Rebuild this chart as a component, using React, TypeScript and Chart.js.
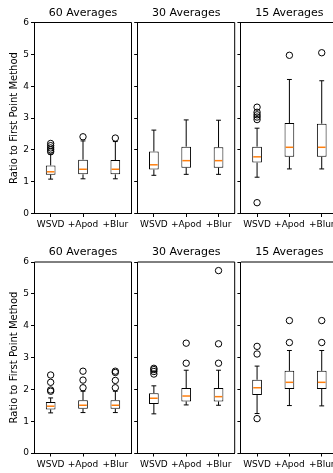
import React, { useEffect, useRef } from "react";
import { Chart, registerables } from "chart.js";

Chart.register(...registerables);

const categories = ["WSVD", "+Apod", "+Blur"];
const panelTitles = ["60 Averages", "30 Averages", "15 Averages"];
const yAxisLabel = "Ratio to First Point Method";
const yMin = 0;
const yMax = 6;
const yStep = 1;

// [low whisker, Q1, median, Q3, high whisker] for WSVD, +Apod, +Blur
const topStats60 = [
  [1.08, 1.22, 1.31, 1.51, 1.87],
  [1.09, 1.23, 1.39, 1.69, 2.28],
  [1.09, 1.23, 1.39, 1.68, 2.26],
];
const topOutliers60 = [[1.94, 2.0, 2.06, 2.13, 2.2], [2.41], [2.37]];

const topStats30 = [
  [1.2, 1.38, 1.53, 1.95, 2.62],
  [1.23, 1.44, 1.66, 2.1, 2.94],
  [1.23, 1.44, 1.66, 2.08, 2.93],
];
const topOutliers30 = [[], [], []];

const topStats15 = [
  [1.14, 1.6, 1.78, 2.1, 2.68],
  [1.4, 1.78, 2.08, 2.84, 4.21],
  [1.4, 1.78, 2.08, 2.82, 4.17],
];
const topOutliers15 = [[0.34, 2.95, 3.03, 3.1, 3.18, 3.34], [4.97], [5.05]];

const bottomStats60 = [
  [1.26, 1.37, 1.47, 1.6, 1.73],
  [1.27, 1.39, 1.5, 1.66, 1.94],
  [1.27, 1.39, 1.5, 1.66, 1.94],
];
const bottomOutliers60 = [[1.94, 1.98, 2.22, 2.45], [2.05, 2.29, 2.57], [2.05, 2.28, 2.53, 2.57]];

const bottomStats30 = [
  [1.23, 1.54, 1.72, 1.88, 2.11],
  [1.51, 1.62, 1.79, 2.04, 2.6],
  [1.5, 1.62, 1.77, 2.04, 2.6],
];
const bottomOutliers30 = [[2.48, 2.56, 2.62, 2.66], [2.82, 3.45], [2.82, 3.43, 5.73]];

const bottomStats15 = [
  [1.24, 1.82, 2.05, 2.3, 2.73],
  [1.49, 2.01, 2.22, 2.58, 3.22],
  [1.48, 2.01, 2.22, 2.58, 3.22],
];
const bottomOutliers15 = [[1.08, 3.11, 3.35], [3.47, 4.16], [3.47, 4.16]];

const panels = [
  { row: 0, col: 0, title: panelTitles[0], stats: topStats60, outliers: topOutliers60 },
  { row: 0, col: 1, title: panelTitles[1], stats: topStats30, outliers: topOutliers30 },
  { row: 0, col: 2, title: panelTitles[2], stats: topStats15, outliers: topOutliers15 },
  { row: 1, col: 0, title: panelTitles[0], stats: bottomStats60, outliers: bottomOutliers60 },
  { row: 1, col: 1, title: panelTitles[1], stats: bottomStats30, outliers: bottomOutliers30 },
  { row: 1, col: 2, title: panelTitles[2], stats: bottomStats15, outliers: bottomOutliers15 },
];

const CANVAS_W = 345;
const CANVAS_H = 473;
const PANEL_LEFT = [34.5, 137.7, 240.9];
const PANEL_WIDTH = 97;
const ROW_TOP = [22.5, 262];
const ROW_BOTTOM = [213.5, 453];
const Y_AXIS_W_FIRST = 34.5;
const Y_AXIS_W = 4;
const X_AXIS_H = 20;
const TITLE_SIZE = 11;
const TITLE_PAD = 3;
const TICK_SIZE = 9;
const BOX_WIDTH = 0.3;
const MEDIAN_COLOR = "#ff7f0e";

Chart.defaults.font.family = "'DejaVu Sans', sans-serif";

type PanelDef = (typeof panels)[number];

function Panel({ p }: { p: PanelDef }) {
  const ref = useRef<HTMLCanvasElement>(null);
  useEffect(() => {
    if (!ref.current) return;
    const first = p.col === 0;
    const yW = first ? Y_AXIS_W_FIRST : Y_AXIS_W;
    const L = PANEL_LEFT[p.col];
    const R = L + PANEL_WIDTH;
    const T = ROW_TOP[p.row];
    const B = ROW_BOTTOM[p.row];
    const titleH = TITLE_SIZE * 1.2 + TITLE_PAD;

    const boxPlugin = {
      id: "boxWhiskers",
      afterDatasetsDraw(chart: any) {
        const { ctx, chartArea } = chart;
        const x = chart.scales.x;
        const y = chart.scales.y;
        const unit = x.getPixelForValue(1) - x.getPixelForValue(0);
        const half = (unit * BOX_WIDTH) / 2;
        const capHalf = half / 2;
        ctx.save();
        p.stats.forEach((s: number[], i: number) => {
          const cx = x.getPixelForValue(i);
          const [lo, q1, med, q3, hi] = s.map((v) => y.getPixelForValue(v));
          ctx.strokeStyle = "#000";
          ctx.lineWidth = 1;
          ctx.beginPath();
          ctx.moveTo(cx, q1);
          ctx.lineTo(cx, lo);
          ctx.moveTo(cx - capHalf, lo);
          ctx.lineTo(cx + capHalf, lo);
          ctx.moveTo(cx, q3);
          ctx.lineTo(cx, hi);
          ctx.moveTo(cx - capHalf, hi);
          ctx.lineTo(cx + capHalf, hi);
          ctx.stroke();
          ctx.strokeStyle = MEDIAN_COLOR;
          ctx.lineWidth = 1.5;
          ctx.beginPath();
          ctx.moveTo(cx - half + 1, med);
          ctx.lineTo(cx + half - 1, med);
          ctx.stroke();
        });
        ctx.strokeStyle = "#000";
        ctx.lineWidth = 1;
        ctx.beginPath();
        ctx.moveTo(chartArea.left, chartArea.top);
        ctx.lineTo(chartArea.right, chartArea.top);
        ctx.lineTo(chartArea.right, chartArea.bottom);
        ctx.stroke();
        ctx.restore();
      },
    };

    const gridOpts = {
      display: true,
      drawOnChartArea: false,
      drawTicks: true,
      tickLength: 3.5,
      color: "#000",
      lineWidth: 1,
      offset: false,
    };

    const chart = new Chart(ref.current, {
      type: "bar",
      data: {
        labels: categories,
        datasets: [
          {
            type: "bar",
            data: p.stats.map((s: number[]) => [s[1], s[3]]),
            backgroundColor: "#ffffff",
            borderColor: "#000000",
            borderWidth: 1,
            borderSkipped: false,
            barPercentage: BOX_WIDTH,
            categoryPercentage: 1,
          } as any,
          {
            type: "line",
            data: p.outliers.flatMap((arr: number[], i: number) =>
              arr.map((v) => ({ x: categories[i], y: v }))
            ),
            showLine: false,
            pointStyle: "circle",
            pointRadius: 3.2,
            pointBorderWidth: 1,
            pointBorderColor: "#000",
            pointBackgroundColor: "rgba(0,0,0,0)",
          } as any,
        ],
      },
      options: {
        responsive: false,
        animation: false,
        events: [],
        devicePixelRatio: 1,
        layout: {
          padding: {
            left: L - yW,
            right: CANVAS_W - R,
            top: T - titleH,
            bottom: CANVAS_H - B - X_AXIS_H,
          },
        },
        plugins: {
          legend: { display: false },
          tooltip: { enabled: false },
          title: {
            display: true,
            text: p.title,
            color: "#000",
            fullSize: false,
            font: { size: TITLE_SIZE, weight: "normal" },
            padding: { top: 0, bottom: TITLE_PAD },
          },
        },
        scales: {
          x: {
            type: "category",
            offset: true,
            grid: gridOpts,
            border: { display: true, color: "#000", width: 1 },
            ticks: {
              color: "#000",
              font: { size: TICK_SIZE },
              maxRotation: 0,
              minRotation: 0,
              autoSkip: false,
              padding: 2.5,
            },
            afterFit: (s: any) => {
              s.height = X_AXIS_H;
            },
          },
          y: {
            type: "linear",
            min: yMin,
            max: yMax,
            grid: gridOpts,
            border: { display: true, color: "#000", width: 1 },
            ticks: {
              stepSize: yStep,
              display: first,
              color: "#000",
              font: { size: TICK_SIZE },
              padding: 2,
            },
            title: {
              display: first,
              text: yAxisLabel,
              color: "#000",
              font: { size: 10 },
              padding: { top: 8, bottom: 0 },
            },
            afterFit: (s: any) => {
              s.width = yW;
            },
          },
        },
      } as any,
      plugins: [boxPlugin as any],
    });
    return () => chart.destroy();
  }, [p]);
  return (
    <canvas
      ref={ref}
      width={CANVAS_W}
      height={CANVAS_H}
      style={{ position: "absolute", left: 0, top: 0, width: CANVAS_W, height: CANVAS_H }}
    />
  );
}

export default function App() {
  return (
    <div
      style={{
        position: "fixed",
        left: 0,
        top: 0,
        width: 333,
        height: 473,
        overflow: "hidden",
        background: "#fff",
      }}
    >
      {panels.map((p, i) => (
        <Panel key={i} p={p} />
      ))}
    </div>
  );
}
